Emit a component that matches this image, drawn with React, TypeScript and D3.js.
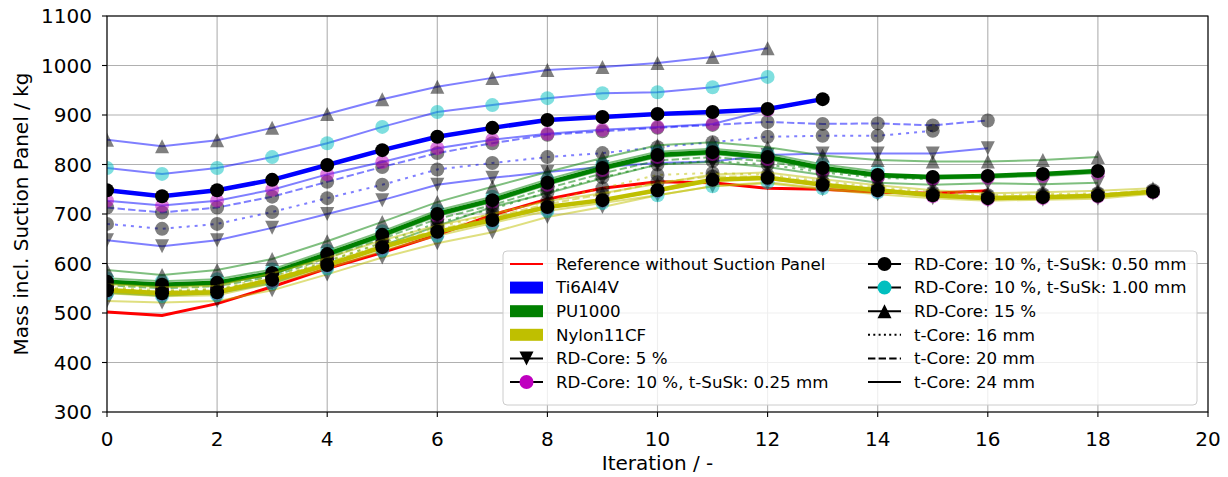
import React from "react";
import * as d3 from "d3";

const W = 1228;
const H = 477;
const M = { left: 107, top: 16, right: 20, bottom: 65 };

const iterTicks = d3.range(0, 21, 2);
const massTicks = d3.range(300, 1101, 100);

// reference without suction panel
const refMass = [502, 495, 519, 553, 590, 622, 658, 698, 730, 752, 765, 763, 752, 750, 744, 742, 747];

// Ti6Al4V
const tiBase = [748, 736, 748, 769, 799, 829, 856, 874, 890, 896, 902, 906, 912, 932];
const tiRd15 = [850, 837, 849, 874, 902, 932, 957, 975, 991, 997, 1005, 1017, 1035];
const tiS100 = [793, 781, 793, 815, 843, 876, 906, 920, 934, 944, 946, 956, 977];
const tiS025 = [727, 717, 727, 749, 780, 805, 833, 850, 862, 870, 876, 882, 910];
const tiT20 = [713, 703, 713, 735, 765, 795, 823, 843, 860, 867, 874, 880, 886, 882, 883, 879, 889];
const tiT16 = [680, 670, 680, 704, 732, 759, 790, 803, 815, 823, 835, 845, 856, 858, 858, 868];
const tiRd5 = [647, 635, 647, 672, 700, 728, 759, 773, 785, 795, 803, 806, 819, 822, 822, 822, 833];

// PU1000
const puBase = [563, 557, 561, 581, 619, 658, 700, 728, 763, 793, 819, 825, 815, 793, 779, 775, 777, 781, 787];
const puRd15 = [587, 577, 587, 609, 645, 684, 724, 755, 785, 813, 839, 845, 835, 818, 809, 806, 806, 809, 815];
const puS100 = [570, 564, 568, 588, 626, 665, 707, 735, 770, 800, 826, 832, 822, 800, 786];
const puS025 = [560, 553, 558, 578, 615, 654, 696, 724, 759, 789, 815, 821, 811, 789, 775, 771, 773, 777, 783];
const puT20 = [556, 550, 554, 574, 611, 650, 690, 718, 752, 782, 808, 815, 806, 788, 776, 773, 776];
const puT16 = [549, 543, 547, 567, 604, 642, 682, 710, 744, 774, 800, 807, 800, 784, 773, 770];
const puRd5 = [541, 535, 540, 560, 597, 636, 676, 714, 742, 772, 800, 805, 795, 779, 763, 759, 762, 760, 763];

// Nylon11CF
const nyBase = [546, 540, 542, 567, 597, 633, 664, 688, 714, 728, 748, 769, 773, 759, 748, 738, 732, 734, 737, 745];
const nyRd15 = [558, 552, 555, 580, 611, 647, 677, 700, 726, 742, 761, 780, 784, 770, 758, 748, 742, 744, 747, 752];
const nyS100 = [540, 534, 536, 560, 590, 626, 656, 682, 706, 722, 738, 756, 764, 752, 744];
const nyS025 = [544, 538, 540, 565, 595, 631, 662, 686, 712, 726, 746, 767, 771, 757, 746, 736, 730, 732, 735, 744];
const nyT20 = [549, 543, 546, 570, 602, 637, 668, 694, 720, 740, 764, 776, 776, 762, 751, 741, 735, 737, 740, 748];
const nyT16 = [552, 546, 549, 573, 606, 641, 673, 700, 726, 752, 779, 783, 779, 766, 754, 744, 738, 740, 742];
const nyRd5 = [524, 521, 524, 546, 578, 612, 641, 663, 694, 714, 738, 756, 762, 750, 740, 732, 727, 729, 731, 741];

const BLUE = "#0000ff";
const GREEN = "#008000";
const YELLOW = "#bfbf00";
const MAG = "#bf00bf";
const CYAN = "#00bfbf";

type Mk = "circle" | "down" | "up";
type S = { values: number[]; color: string; marker: Mk; mColor: string; mAlpha: number; dash: string; base: boolean };

function material(color: string, base: number[], rd5: number[], s025: number[], t16: number[], t20: number[], s100: number[], rd15: number[]): S[] {
  return [
    { values: rd5, color, marker: "down", mColor: "#000", mAlpha: 0.5, dash: "", base: false },
    { values: t16, color, marker: "circle", mColor: "#000", mAlpha: 0.5, dash: "3 5", base: false },
    { values: t20, color, marker: "circle", mColor: "#000", mAlpha: 0.5, dash: "7.4 3.2", base: false },
    { values: s025, color, marker: "circle", mColor: MAG, mAlpha: 0.5, dash: "", base: false },
    { values: s100, color, marker: "circle", mColor: CYAN, mAlpha: 0.5, dash: "", base: false },
    { values: rd15, color, marker: "up", mColor: "#000", mAlpha: 0.5, dash: "", base: false },
    { values: base, color, marker: "circle", mColor: "#000", mAlpha: 1, dash: "", base: true },
  ];
}

const allSeries: S[] = [
  ...material(BLUE, tiBase, tiRd5, tiS025, tiT16, tiT20, tiS100, tiRd15),
  ...material(GREEN, puBase, puRd5, puS025, puT16, puT20, puS100, puRd15),
  ...material(YELLOW, nyBase, nyRd5, nyS025, nyT16, nyT20, nyS100, nyRd15),
];

const legendLeft = [
  { label: "Reference without Suction Panel", kind: "line", color: "#ff0000" },
  { label: "Ti6Al4V", kind: "patch", color: BLUE },
  { label: "PU1000", kind: "patch", color: GREEN },
  { label: "Nylon11CF", kind: "patch", color: YELLOW },
  { label: "RD-Core: 5 %", kind: "down", color: "#000" },
  { label: "RD-Core: 10 %, t-SuSk: 0.25 mm", kind: "circle", color: MAG },
];
const legendRight = [
  { label: "RD-Core: 10 %, t-SuSk: 0.50 mm", kind: "circle", color: "#000" },
  { label: "RD-Core: 10 %, t-SuSk: 1.00 mm", kind: "circle", color: CYAN },
  { label: "RD-Core: 15 %", kind: "up", color: "#000" },
  { label: "t-Core: 16 mm", kind: "dotted", color: "#000" },
  { label: "t-Core: 20 mm", kind: "dashed", color: "#000" },
  { label: "t-Core: 24 mm", kind: "solid", color: "#000" },
];

const FONT = "DejaVu Sans";
const FS = 16.67;
const FS_AX = 20;

function markerPath(kind: string, r: number) {
  if (kind === "up") return `M0,${-r}L${r},${r}L${-r},${r}Z`;
  if (kind === "down") return `M0,${r}L${r},${-r}L${-r},${-r}Z`;
  return d3.symbol(d3.symbolCircle, Math.PI * r * r)() as string;
}

const Marker = ({ kind, x, y, fill, alpha, r = 7 }: any) => (
  <path d={markerPath(kind, r)} transform={`translate(${x},${y})`} fill={fill} fillOpacity={alpha} />
);

const LegendItem = ({ item, x, y }: any) => {
  const hx0 = x, hx1 = x + 33, hc = x + 16.5;
  let handle: any = null;
  if (item.kind === "line") handle = <line x1={hx0} x2={hx1} y1={y} y2={y} stroke={item.color} strokeWidth={2} />;
  else if (item.kind === "patch") handle = <rect x={hx0} y={y - 6} width={33} height={12} fill={item.color} />;
  else if (item.kind === "dotted") handle = <line x1={hx0} x2={hx1} y1={y} y2={y} stroke="#000" strokeWidth={2} strokeDasharray="2 3.3" />;
  else if (item.kind === "dashed") handle = <line x1={hx0} x2={hx1} y1={y} y2={y} stroke="#000" strokeWidth={2} strokeDasharray="7.4 3.2" />;
  else if (item.kind === "solid") handle = <line x1={hx0} x2={hx1} y1={y} y2={y} stroke="#000" strokeWidth={2} />;
  else handle = (
    <g>
      <line x1={hx0} x2={hx1} y1={y} y2={y} stroke="#000" strokeWidth={2} />
      <Marker kind={item.kind} x={hc} y={y} fill={item.color} alpha={1} />
    </g>
  );
  return (
    <g>
      {handle}
      <text x={x + 46} y={y} dy="0.35em" fontSize={FS} fontFamily={FONT}>{item.label}</text>
    </g>
  );
};

export default function App() {
  const x = d3.scaleLinear().domain([0, 20]).range([M.left, W - M.right]);
  const y = d3.scaleLinear().domain([300, 1100]).range([H - M.bottom, M.top]);
  const line = d3.line<number>().x((_, i) => x(i)).y((d) => y(d)).curve(d3.curveLinear);

  const x0 = M.left, x1 = W - M.right, y0 = H - M.bottom, y1 = M.top;

  return (
    <svg width={W} height={H} style={{ position: "absolute", left: 0, top: 0, background: "#fff" }}>
      <defs>
        <clipPath id="plot">
          <rect x={x0} y={y1} width={x1 - x0} height={y0 - y1} />
        </clipPath>
      </defs>
      {/* grid */}
      <g stroke="#b0b0b0" strokeWidth={1.1}>
        {iterTicks.map((t) => <line key={"gx" + t} x1={x(t)} x2={x(t)} y1={y1} y2={y0} />)}
        {massTicks.map((t) => <line key={"gy" + t} x1={x0} x2={x1} y1={y(t)} y2={y(t)} />)}
      </g>

      <g clipPath="url(#plot)">
        <path d={line(refMass) as string} fill="none" stroke="#ff0000" strokeWidth={3} />
        {allSeries.map((s, k) => (
          <g key={k}>
            <path
              d={line(s.values) as string}
              fill="none"
              stroke={s.color}
              strokeOpacity={s.base ? 1 : 0.5}
              strokeWidth={s.base ? 4.5 : 2}
              strokeDasharray={s.dash || undefined}
            />
            {s.values.map((v, i) => (
              <Marker key={i} kind={s.marker} x={x(i)} y={y(v)} fill={s.mColor} alpha={s.mAlpha} />
            ))}
          </g>
        ))}
      </g>

      {/* spines */}
      <rect x={x0} y={y1} width={x1 - x0} height={y0 - y1} fill="none" stroke="#000" strokeWidth={1.1} />

      {/* ticks */}
      <g fontFamily={FONT} fontSize={FS_AX}>
        {iterTicks.map((t) => (
          <g key={"tx" + t}>
            <line x1={x(t)} x2={x(t)} y1={y0} y2={y0 + 5} stroke="#000" strokeWidth={1.1} />
            <text x={x(t)} y={446} textAnchor="middle">{t}</text>
          </g>
        ))}
        {massTicks.map((t) => (
          <g key={"ty" + t}>
            <line x1={x0 - 5} x2={x0} y1={y(t)} y2={y(t)} stroke="#000" strokeWidth={1.1} />
            <text x={x0 - 15} y={y(t)} dy="0.36em" textAnchor="end">{t}</text>
          </g>
        ))}
        <text x={(x0 + x1) / 2} y={470} textAnchor="middle">Iteration / -</text>
        <text transform={`translate(21,${(y0 + y1) / 2}) rotate(-90)`} dy="0.36em" textAnchor="middle">Mass incl. Suction Panel / kg</text>
      </g>

      {/* legend */}
      <rect x={503} y={251} width={694} height={154} rx={4} fill="#fff" fillOpacity={0.8} stroke="#cccccc" />
      {legendLeft.map((it, i) => <LegendItem key={"l" + i} item={it} x={510} y={264 + i * 23.6} />)}
      {legendRight.map((it, i) => <LegendItem key={"r" + i} item={it} x={868} y={264 + i * 23.6} />)}
    </svg>
  );
}
